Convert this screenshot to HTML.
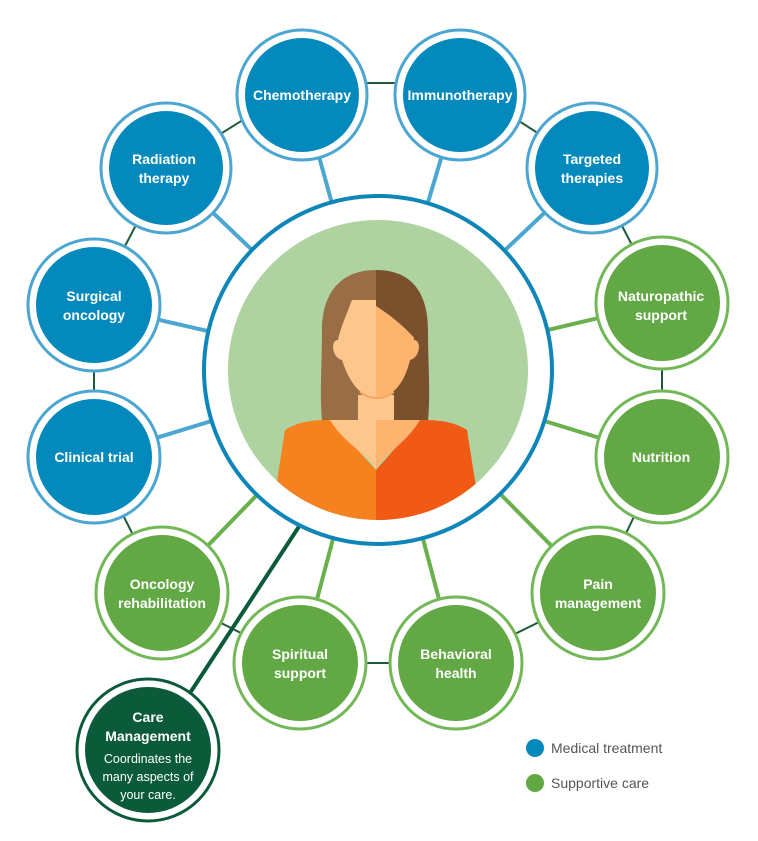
<!DOCTYPE html>
<html><head><style>
html,body{margin:0;padding:0;background:#fff;}
svg{display:block;}
text{font-family:"Liberation Sans",sans-serif;}
</style></head><body>
<svg width="758" height="841" viewBox="0 0 758 841" xmlns="http://www.w3.org/2000/svg">
<defs><clipPath id="cc"><circle cx="378" cy="370" r="150"/></clipPath></defs>
<!-- ring connectors -->
<g stroke="#1d5a3a" stroke-width="2" fill="none">
<polyline points="302,83 460,83 592,168 662,303 662,457 598,593 456,663 300,663 162,593 94,457 94,305 166,168 302,83"/>
</g>
<!-- spokes -->
<g stroke-width="4">
<g stroke="#4ba6d1">
<line x1="378" y1="370" x2="302" y2="95"/><line x1="378" y1="370" x2="460" y2="95"/>
<line x1="378" y1="370" x2="166" y2="168"/><line x1="378" y1="370" x2="592" y2="168"/>
<line x1="378" y1="370" x2="94" y2="305"/><line x1="378" y1="370" x2="94" y2="457"/>
</g>
<g stroke="#6ab04c">
<line x1="378" y1="370" x2="662" y2="303"/><line x1="378" y1="370" x2="662" y2="457"/>
<line x1="378" y1="370" x2="598" y2="593"/><line x1="378" y1="370" x2="162" y2="593"/>
<line x1="378" y1="370" x2="300" y2="663"/><line x1="378" y1="370" x2="456" y2="663"/>
</g>
<line x1="300" y1="525" x2="190" y2="693" stroke="#0b5a3a"/>
</g>
<!-- center -->
<circle cx="378" cy="370" r="174" fill="#fff" stroke="#0f86b8" stroke-width="4"/>
<circle cx="378" cy="370" r="150" fill="#afd3a0"/>
<g clip-path="url(#cc)">
<path d="M376,270 C335,270 322,300 322,330 C322,370 318,410 325,440 L376,440 Z" fill="#9a6e44"/>
<path d="M376,270 C417,270 428,300 428,330 C428,370 432,410 425,440 L376,440 Z" fill="#7a512d"/>
<path d="M358,395 L394,395 L394,430 L358,430 Z" fill="#fdc68c"/>
<path d="M285,430 C300,420 320,420 330,420 L376,470 L376,525 L270,525 Z" fill="#f5821f"/>
<path d="M467,430 C452,420 432,420 420,420 L376,470 L376,525 L482,525 Z" fill="#f15a14"/>
<path d="M330,420 C345,445 370,455 376,470 L376,420 Z" fill="#fdc68c"/>
<path d="M420,420 C405,445 382,455 376,470 L376,420 Z" fill="#fcb46e"/>
<path d="M352,300 C345,318 340,330 338,340 C330,340 332,358 342,360 C350,385 362,397 376,399 L376,300 Z" fill="#fdc68c"/>
<path d="M376,300 L376,399 C392,397 404,385 410,360 C420,358 422,340 414,340 C414,330 405,318 376,300 Z" fill="#fcb46e"/>
<path d="M376,272 L376,306 C398,320 412,335 418,342 L424,320 C420,285 400,272 376,272 Z" fill="#7a512d"/>
<path d="M360,392 C370,400 384,400 394,392" stroke="#f5a663" stroke-width="2" fill="none"/>
</g>
<!-- satellites -->
<g stroke-width="3">
<g fill="#fff" stroke="#4ba6d1">
<circle cx="302" cy="95" r="65"/><circle cx="460" cy="95" r="65"/>
<circle cx="166" cy="168" r="65"/><circle cx="592" cy="168" r="65"/>
<circle cx="94" cy="305" r="66"/><circle cx="94" cy="457" r="66"/>
</g>
<g fill="#fff" stroke="#72b856">
<circle cx="662" cy="303" r="66"/><circle cx="662" cy="457" r="66"/>
<circle cx="598" cy="593" r="66"/><circle cx="162" cy="593" r="66"/>
<circle cx="300" cy="663" r="66"/><circle cx="456" cy="663" r="66"/>
</g>
<circle cx="148" cy="750" r="71" fill="#fff" stroke="#0b5a3a"/>
</g>
<g fill="#0489bd">
<circle cx="302" cy="95" r="57"/><circle cx="460" cy="95" r="57"/>
<circle cx="166" cy="168" r="57"/><circle cx="592" cy="168" r="57"/>
<circle cx="94" cy="305" r="58"/><circle cx="94" cy="457" r="58"/>
</g>
<g fill="#62a844">
<circle cx="662" cy="303" r="58"/><circle cx="662" cy="457" r="58"/>
<circle cx="598" cy="593" r="58"/><circle cx="162" cy="593" r="58"/>
<circle cx="300" cy="663" r="58"/><circle cx="456" cy="663" r="58"/>
</g>
<circle cx="148" cy="750" r="63" fill="#0b5a3a"/>
<g fill="#fff" font-size="14" font-weight="bold" text-anchor="middle">
<text x="302" y="100">Chemotherapy</text>
<text x="460" y="100">Immunotherapy</text>
<text x="164" y="164">Radiation</text><text x="164" y="183">therapy</text>
<text x="592" y="164">Targeted</text><text x="592" y="183">therapies</text>
<text x="94" y="301">Surgical</text><text x="94" y="320">oncology</text>
<text x="94" y="462">Clinical trial</text>
<text x="661" y="301">Naturopathic</text><text x="661" y="320">support</text>
<text x="661" y="462">Nutrition</text>
<text x="598" y="589">Pain</text><text x="598" y="608">management</text>
<text x="162" y="589">Oncology</text><text x="162" y="608">rehabilitation</text>
<text x="300" y="659">Spiritual</text><text x="300" y="678">support</text>
<text x="456" y="659">Behavioral</text><text x="456" y="678">health</text>
<text x="148" y="722">Care</text><text x="148" y="741">Management</text>
</g>
<g fill="#fff" font-size="12.5" text-anchor="middle">
<text x="148" y="763">Coordinates the</text>
<text x="148" y="781">many aspects of</text>
<text x="148" y="799">your care.</text>
</g>
<circle cx="535" cy="748" r="9" fill="#0489bd"/>
<circle cx="535" cy="783" r="9" fill="#62a844"/>
<g fill="#555" font-size="14">
<text x="551" y="753">Medical treatment</text>
<text x="551" y="788">Supportive care</text>
</g>
</svg>
</body></html>
